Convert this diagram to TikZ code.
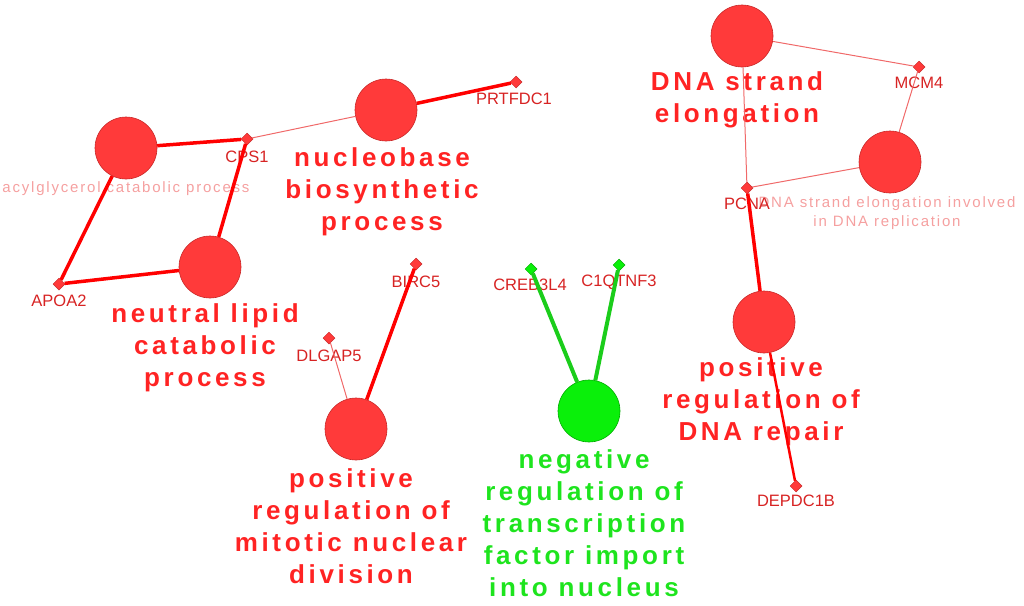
\documentclass[tikz,border=0pt]{standalone}
\usepackage{fontspec}
\setmainfont{Liberation Sans}
\newfontfamily\termfont[LetterSpace=14]{Liberation Sans}
\newfontfamily\faintfont[LetterSpace=12]{Liberation Sans}
\usetikzlibrary{shapes.geometric}
\definecolor{termfill}{RGB}{255,58,58}
\definecolor{termedge}{RGB}{200,40,40}
\definecolor{termred}{RGB}{255,35,35}
\definecolor{greenfill}{RGB}{10,240,10}
\definecolor{greenedge}{RGB}{0,170,0}
\definecolor{termgreen}{RGB}{30,228,30}
\definecolor{genered}{RGB}{215,35,35}
\definecolor{faintred}{RGB}{245,160,160}
\definecolor{thinred}{RGB}{240,105,105}

\begin{document}
\begin{tikzpicture}[x=1pt,y=-1pt,
    term/.style={circle, draw=termedge, fill=termfill, line width=0.6pt, minimum size=62pt, inner sep=0pt},
    greenterm/.style={term, draw=greenedge, fill=greenfill},
    gene/.style={diamond, draw=termedge, fill=termfill, line width=0.5pt, minimum size=12pt, inner sep=0pt},
    greengene/.style={gene, draw=greenedge, fill=greenfill},
    genetxt/.style={text=genered, inner sep=0pt, font=\fontsize{16.5}{19}\selectfont},
    termtext/.style={text=termred, align=center, inner sep=0pt, font=\termfont\bfseries\fontsize{26}{32}\selectfont},
    greentext/.style={termtext, text=termgreen},
    fainttext/.style={text=faintred, align=center, inner sep=0pt, font=\faintfont\fontsize{15}{18.5}\selectfont},
    thick edge/.style={draw=red, line width=3.5pt},
    thin edge/.style={draw=thinred, line width=1pt},
    green edge/.style={draw=termgreen!90!black, line width=4pt}]
    \useasboundingbox (0,0) rectangle (1024,605);

    %%%%% labels %%%%%
    \node[fainttext] (acyl-t) at (126,189) {acylglycerol catabolic process};
    \node[termtext] (nucleo-t) at (382,192) {nucleobase\\biosynthetic\\process};
    \node[termtext] (neutral-t) at (205,348) {neutral lipid\\catabolic\\process};
    \node[termtext] (elong-t) at (737,100) {DNA strand\\elongation};
    \node[fainttext] (replic-t) at (887,213) {DNA strand elongation involved\\in DNA replication};
    \node[termtext] (repair-t) at (761,402) {positive\\regulation of\\DNA repair};
    \node[termtext] (mitotic-t) at (351,526) {positive\\regulation of\\mitotic nuclear\\division};
    \node[greentext] (nuclimp-t) at (584,523) {negative\\regulation of\\transcription\\factor import\\into nucleus};

    \node[genetxt] (cps1-t) at (247,157) {CPS1};
    \node[genetxt] (prtfdc1-t) at (514,99) {PRTFDC1};
    \node[genetxt] (apoa2-t) at (59,301) {APOA2};
    \node[genetxt] (birc5-t) at (416,282) {BIRC5};
    \node[genetxt] (dlgap5-t) at (329,356) {DLGAP5};
    \node[genetxt] (creb3l4-t) at (530,285) {CREB3L4};
    \node[genetxt] (c1qtnf3-t) at (619,282) {C1QTNF3};
    \node[genetxt] (mcm4-t) at (919,83) {MCM4};
    \node[genetxt] (pcna-t) at (747,204) {PCNA};
    \node[genetxt] (depdc1b-t) at (796,501) {DEPDC1B};

    %%%%% terms %%%%%
    \node[term] (acyl) at (126,148) {};
    \node[term] (nucleo) at (386,110) {};
    \node[term] (neutral) at (210,267) {};
    \node[term] (elong) at (742,36) {};
    \node[term] (replic) at (890,162) {};
    \node[term] (repair) at (764,322) {};
    \node[term] (mitotic) at (356,429) {};
    \node[greenterm] (nuclimp) at (589,411) {};

    %%%%% genes %%%%%
    \node[gene] (cps1) at (247,139) {};
    \node[gene] (prtfdc1) at (516,82) {};
    \node[gene] (apoa2) at (59,284) {};
    \node[gene] (birc5) at (416,264) {};
    \node[gene] (dlgap5) at (329,338) {};
    \node[greengene] (creb3l4) at (531,269) {};
    \node[greengene] (c1qtnf3) at (619,265) {};
    \node[gene] (mcm4) at (919,67) {};
    \node[gene] (pcna) at (747,188) {};
    \node[gene] (depdc1b) at (796,486) {};

    %%%%% edges %%%%%
    \draw[thick edge] (acyl) -- (cps1);
    \draw[thick edge] (acyl) -- (apoa2);
    \draw[thick edge] (cps1) -- (neutral);
    \draw[thick edge] (apoa2) -- (neutral);
    \draw[thin edge] (cps1) -- (nucleo);
    \draw[thick edge] (nucleo) -- (prtfdc1);

    \draw[thin edge] (elong) -- (mcm4);
    \draw[thin edge] (elong) -- (pcna);
    \draw[thin edge] (mcm4) -- (replic);
    \draw[thin edge] (pcna) -- (replic);
    \draw[thick edge] (pcna) -- (repair);
    \draw[thick edge, line width=2.5pt] (repair) -- (depdc1b);

    \draw[thin edge] (mitotic) -- (dlgap5);
    \draw[thick edge] (mitotic) -- (birc5);

    \draw[green edge] (nuclimp) -- (creb3l4);
    \draw[green edge] (nuclimp) -- (c1qtnf3);
\end{tikzpicture}
\end{document}
